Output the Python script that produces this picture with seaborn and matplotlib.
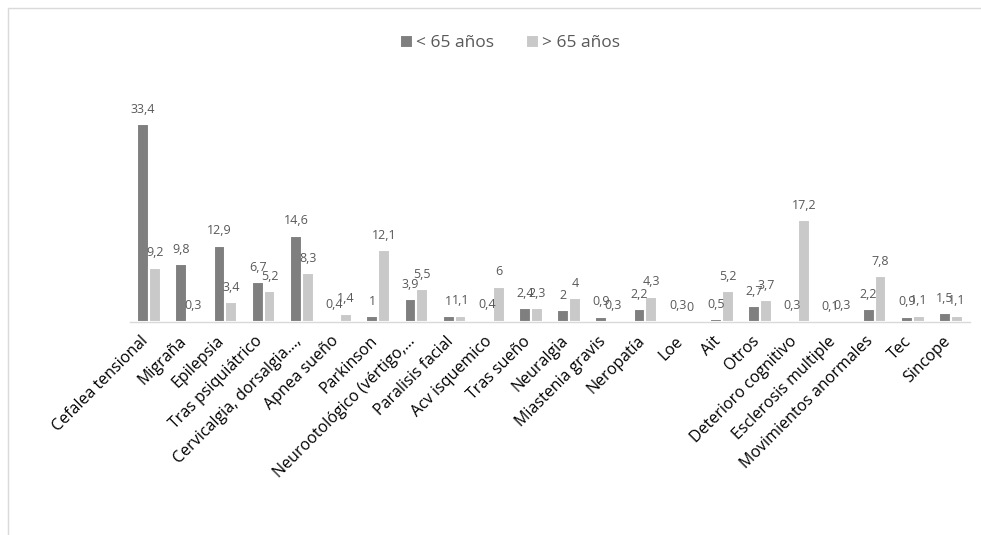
import pandas as pd
import seaborn as sns
import matplotlib.pyplot as plt
from matplotlib.patches import Rectangle
from matplotlib.transforms import ScaledTranslation

# ======================================
# Data
# ======================================

categorias = [
    "Cefalea tensional", "Migraña", "Epilepsia", "Tras psiquiátrico",
    "Cervicalgia, dorsalgia...,", "Apnea sueño", "Parkinson",
    "Neurootológico (vértigo,...", "Paralisis facial", "Acv isquemico",
    "Tras sueño", "Neuralgia", "Miastenia gravis", "Neropatía", "Loe",
    "Ait", "Otros", "Deterioro cognitivo", "Esclerosis multiple",
    "Movimientos anormales", "Tec", "Sincope",
]

menores_65 = [33.4, 9.8, 12.9, 6.7, 14.6, 0.4, 1, 3.9, 1, 0.4, 2.4,
              2, 0.9, 2.2, 0.3, 0.5, 2.7, 0.3, 0.1, 2.2, 0.9, 1.5]
mayores_65 = [9.2, 0.3, 3.4, 5.2, 8.3, 1.4, 12.1, 5.5, 1.1, 6, 2.3,
              4, 0.3, 4.3, 0, 5.2, 3.7, 17.2, 0.3, 7.8, 1.1, 1.1]

series = ["< 65 años", "> 65 años"]

df = pd.DataFrame({
    "categoria": categorias * 2,
    "valor": menores_65 + mayores_65,
    "grupo": [series[0]] * len(categorias) + [series[1]] * len(categorias),
})

# ======================================
# Plot
# ======================================

sns.set_theme(style="white")
plt.rcParams["font.family"] = ["Open Sans", "DejaVu Sans"]

fig = plt.figure(figsize=(9.81, 5.35), dpi=100)
ax = fig.add_axes([130 / 981, 0.398, 840 / 981, 0.443])

sns.barplot(
    data=df, x="categoria", y="valor", hue="grupo",
    palette=["#7f7f7f", "#c9c9c9"], width=0.62,
    edgecolor="white", linewidth=1.5, ax=ax,
)

for cont in ax.containers:
    ax.bar_label(
        cont,
        labels=[f"{v:g}".replace(".", ",") for v in cont.datavalues],
        padding=6, fontsize=9, color="#595959",
    )

ax.set_ylim(0, 40)
ax.set_xlim(-0.5, len(categorias) - 0.5)
ax.set_xlabel("")
ax.set_ylabel("")
ax.set_yticks([])
ax.tick_params(axis="x", length=0, pad=8)
offset = ScaledTranslation(-9 / 100, 0, fig.dpi_scale_trans)
for lab in ax.get_xticklabels():
    lab.set_rotation(45)
    lab.set_ha("right")
    lab.set_rotation_mode("anchor")
    lab.set_fontsize(11.5)
    lab.set_color("black")
    lab.set_transform(lab.get_transform() + offset)

for s in ["top", "right", "left"]:
    ax.spines[s].set_visible(False)
ax.spines["bottom"].set_color("#d9d9d9")
ax.spines["bottom"].set_linewidth(1)

handles, labels = ax.get_legend_handles_labels()
ax.get_legend().remove()
fig.legend(
    handles, labels, loc="center", bbox_to_anchor=(0.52, 1 - 43 / 535),
    ncol=2, frameon=False, fontsize=12.5, handlelength=0.75, handleheight=0.75,
    handletextpad=0.2, columnspacing=1.8, labelcolor="#595959",
)

# chart area frame
fig.patches.append(Rectangle((8 / 981, -0.1), 1.2, (535 - 8) / 535 + 0.1,
                             transform=fig.transFigure, fill=False,
                             edgecolor="#d9d9d9", linewidth=1))

fig.savefig("out.png", dpi=100)
